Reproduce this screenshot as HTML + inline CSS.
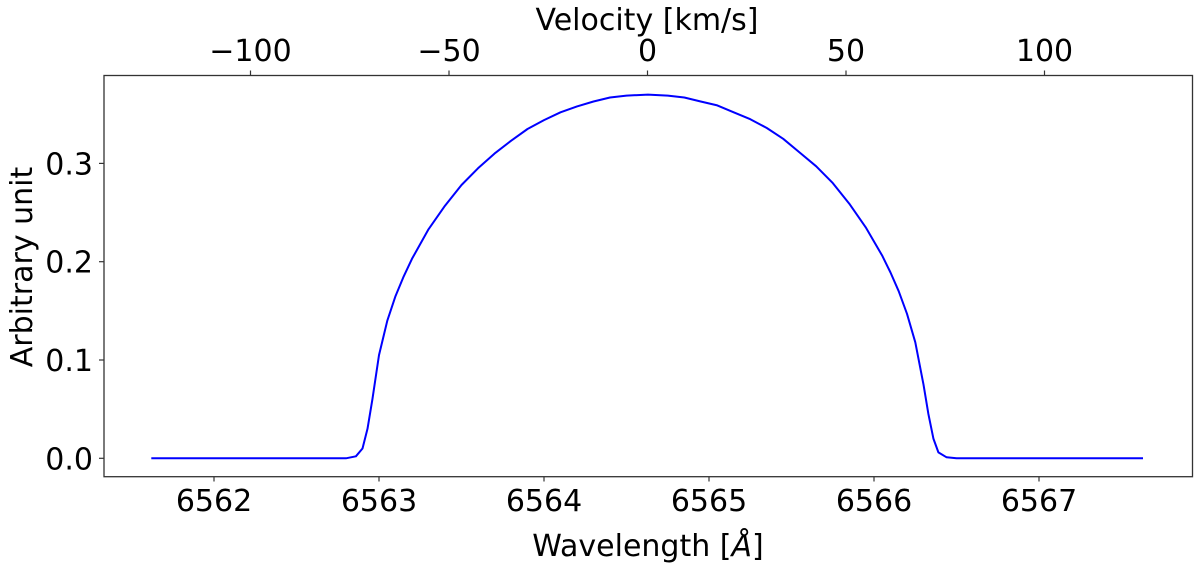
<!DOCTYPE html>
<html><head><meta charset="utf-8"><style>
html,body{margin:0;padding:0;background:#fff;width:1200px;height:567px;overflow:hidden}
svg text{font-family:"DejaVu Sans","Liberation Sans",sans-serif;fill:#000}
</style></head><body>
<svg id="chart" width="1200" height="567" viewBox="0 0 1200 567" xmlns="http://www.w3.org/2000/svg">
<rect x="0" y="0" width="1200" height="567" fill="#fff"/>
<g id="grid"></g>
<polyline id="series" fill="none" stroke="#0000ff" stroke-width="2" stroke-linejoin="round"/>
<rect x="104" y="75.5" width="1088.5" height="401.2" fill="none" stroke="#333" stroke-width="1.3"/>
<text x="648" y="556" font-size="30" text-anchor="middle">Wavelength [<tspan font-style="italic">Å</tspan>]</text>
<text x="647" y="30" font-size="30" text-anchor="middle">Velocity [km/s]</text>
<text transform="translate(32,267) rotate(-90)" font-size="30" text-anchor="middle">Arbitrary unit</text>
</svg>
<script>
const wavelengths=[6561.62,6562.80,6562.86,6562.90,6562.93,6562.96,6563.0,6563.05,6563.1,6563.15,6563.2,6563.3,6563.4,6563.5,6563.6,6563.7,6563.8,6563.9,6564.0,6564.1,6564.2,6564.3,6564.4,6564.5,6564.63,6564.75,6564.85,6564.95,6565.05,6565.15,6565.25,6565.35,6565.45,6565.55,6565.65,6565.75,6565.85,6565.95,6566.05,6566.1,6566.15,6566.2,6566.25,6566.30,6566.33,6566.36,6566.39,6566.44,6566.5,6567.63];
const values=[0,0,0.002,0.01,0.03,0.06,0.105,0.14,0.165,0.185,0.203,0.233,0.257,0.278,0.295,0.310,0.323,0.335,0.344,0.352,0.358,0.363,0.367,0.369,0.370,0.369,0.367,0.363,0.359,0.352,0.345,0.336,0.325,0.311,0.297,0.280,0.259,0.235,0.206,0.189,0.170,0.147,0.118,0.075,0.045,0.02,0.006,0.001,0,0];
const xTicks=[6562,6563,6564,6565,6566,6567];
const yTicks=[0.0,0.1,0.2,0.3];
const yTickLabels=["0.0","0.1","0.2","0.3"];
const vTicks=[-100,-50,0,50,100];
const vTickLabels=["\u2212100","\u221250","0","50","100"];
const X0=214,XS=165,Y0=458.3,YS=983,V0=647.5,VS=3.97;
function xs(w){return X0+(w-6562)*XS;}
function ys(v){return Y0-v*YS;}
function vs(v){return V0+v*VS;}
const NS="http://www.w3.org/2000/svg";
const g=document.getElementById('grid');
function mk(t,a){const e=document.createElementNS(NS,t);for(const k in a)e.setAttribute(k,a[k]);g.appendChild(e);return e;}
xTicks.forEach(t=>{const x=xs(t);
 const l=mk('line',{x1:x,x2:x,y1:476.7,y2:481.5,stroke:'#333','stroke-width':1.2});
 
 
 const s=mk('text',{x:x,y:511,'font-size':30,'text-anchor':'middle'});s.textContent=String(t);
 
 });
yTicks.forEach((t,i)=>{const y=ys(t);
 const l=mk('line',{x1:99,x2:104,y1:y,y2:y,stroke:'#333','stroke-width':1.2});
 
 
 const s=mk('text',{x:93,y:y+11,'font-size':30,'text-anchor':'end'});s.textContent=yTickLabels[i];
 
 });
vTicks.forEach((t,i)=>{const x=vs(t);
 const l=mk('line',{x1:x,x2:x,y1:70.5,y2:75.5,stroke:'#333','stroke-width':1.2});
 
 
 const s=mk('text',{x:x,y:61,'font-size':30,'text-anchor':'middle'});s.textContent=vTickLabels[i];
 
 });
document.getElementById('series').setAttribute('points',wavelengths.map((w,i)=>xs(w).toFixed(1)+','+ys(values[i]).toFixed(1)).join(' '));
</script>
</body></html>
